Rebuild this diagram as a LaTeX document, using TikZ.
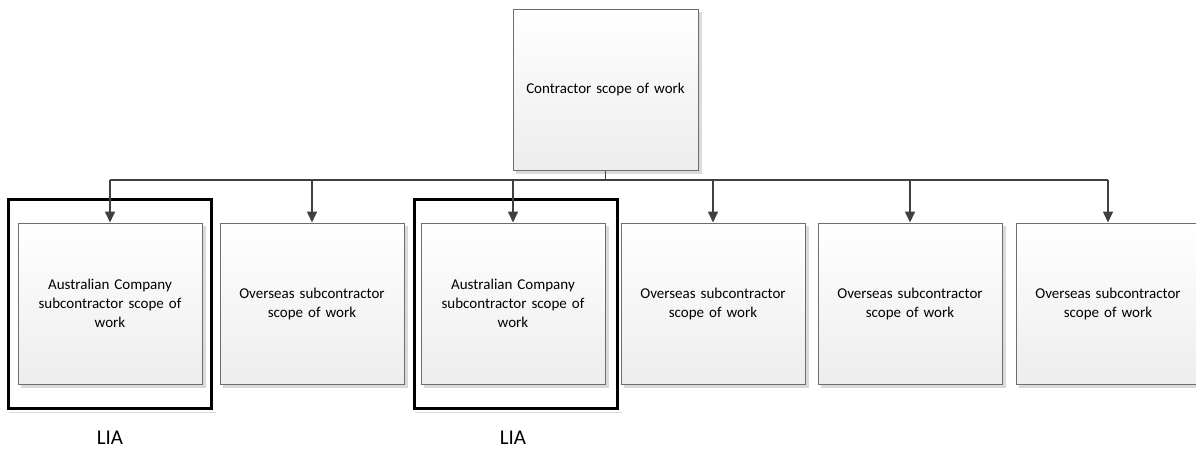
\documentclass[tikz,border=0pt]{standalone}
\usepackage{fontspec}
\setmainfont{Carlito}
\usetikzlibrary{arrows.meta}
\definecolor{linegray}{HTML}{404040}
\definecolor{boxedge}{HTML}{6E6E6E}
\definecolor{shadowgray}{HTML}{DADADA}
\tikzset{
  scopebox/.style={draw=boxedge, line width=1pt, top color=white, bottom color=black!7,
    minimum width=184pt, minimum height=161pt, inner sep=0pt, align=center,
    text width=170pt, font=\fontsize{15}{19}\selectfont},
  topbox/.style={scopebox, minimum width=185pt},
  liaframe/.style={draw=black, line width=3pt, minimum width=203pt, minimum height=209pt, inner sep=0pt},
  lialabel/.style={font=\fontsize{21}{24}\selectfont},
  link/.style={draw=linegray, line width=1.6pt},
  feed/.style={link, -{Triangle[length=11pt,width=10pt]}},
}
\newcommand{\boxshadow}[1]{%
  \fill[shadowgray] ([xshift=3pt,yshift=-3pt]#1.south west) rectangle ([xshift=3pt,yshift=-3pt]#1.north east);}
\begin{document}
\begin{tikzpicture}[x=1pt,y=-1pt]
\useasboundingbox (0,0) rectangle (1196,451);
\clip (0,0) rectangle (1196,451);
\fill[white] (0,0) rectangle (1196,451);

% LIA frames around the two Australian boxes
\node[liaframe] (lia1) at (110,303.5) {};
\node[liaframe] (lia2) at (515.5,303.5) {};
\fill[shadowgray] ([xshift=2pt,yshift=-2pt]lia1.south west) rectangle ([xshift=3pt,yshift=-3pt]lia1.south east);
\fill[shadowgray] ([xshift=2pt,yshift=-2pt]lia2.south west) rectangle ([xshift=3pt,yshift=-3pt]lia2.south east);
\node[liaframe] at (lia1) {};
\node[liaframe] at (lia2) {};

% contractor box
\node[topbox, draw=none, fill=none] (top) at (605.5,89.5) {};
\boxshadow{top}
\node[topbox] at (top) {Contractor scope of work};

% subcontractor boxes
\foreach \n/\x in {c1/110, c2/312, c3/513, c4/713, c5/910, c6/1108} {
  \node[scopebox, draw=none, fill=none] (\n) at (\x,303.5) {};
  \boxshadow{\n}
}
\node[scopebox] at (c1) {Australian Company\\ subcontractor scope of\\ work};
\node[scopebox] at (c2) {Overseas subcontractor\\ scope of work};
\node[scopebox] at (c3) {Australian Company\\ subcontractor scope of\\ work};
\node[scopebox] at (c4) {Overseas subcontractor\\ scope of work};
\node[scopebox] at (c5) {Overseas subcontractor\\ scope of work};
\node[scopebox] at (c6) {Overseas subcontractor\\ scope of work};

% labels
\node[lialabel] (l1) at (110,438) {LIA};
\node[lialabel] (l2) at (513,438) {LIA};

% connectors
\coordinate (bus) at (0,180);
\draw[link] (top.south) -- (top.south |- bus);
\draw[link] (c1.north |- bus) -- (c6.north |- bus);
\foreach \n in {c1,c2,c3,c4,c5,c6}
  \draw[feed] (\n.north |- bus) -- (\n.north);
\end{tikzpicture}
\end{document}
